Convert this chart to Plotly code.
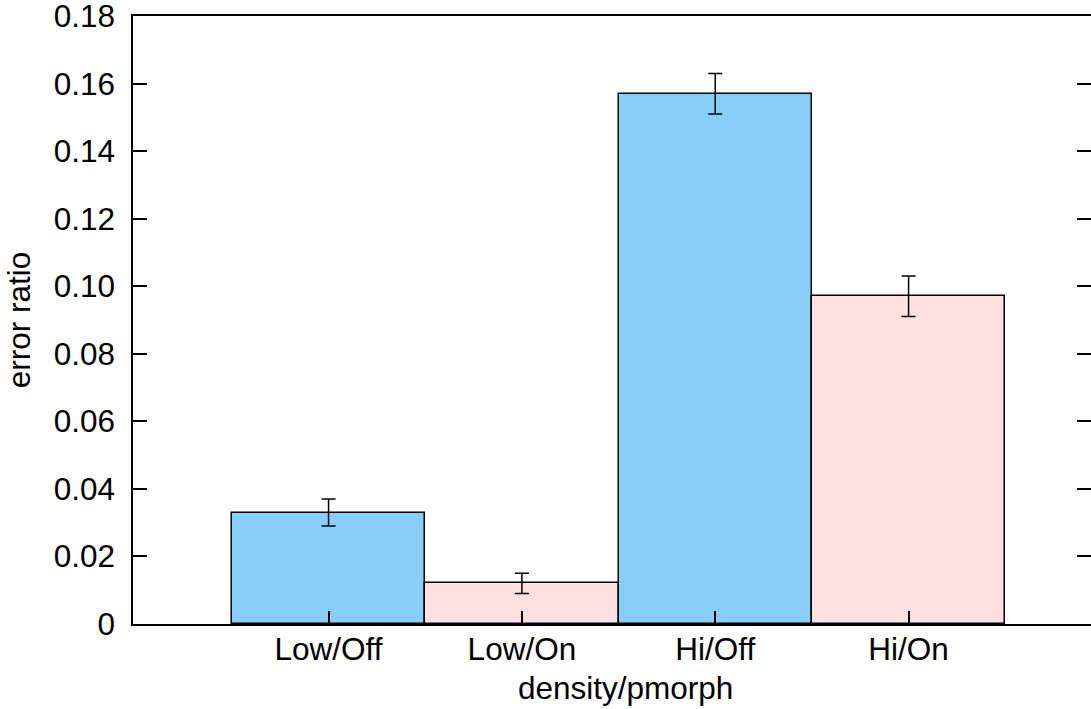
import plotly.graph_objects as go

# Error ratio by density / pmorph setting
categories = ["Low/Off", "Low/On", "Hi/Off", "Hi/On"]
error_ratio = [0.033, 0.012, 0.157, 0.097]
error_spread = [0.004, 0.003, 0.006, 0.006]
bar_colors = ["#87CEFA", "#FFDFE0", "#87CEFA", "#FFDFE0"]
y_tick_values = [0, 0.02, 0.04, 0.06, 0.08, 0.10, 0.12, 0.14, 0.16, 0.18]
y_tick_labels = ["0", "0.02", "0.04", "0.06", "0.08", "0.10", "0.12", "0.14", "0.16", "0.18"]

positions = list(range(len(categories)))
font_family = "Liberation Sans, Arial, Helvetica, sans-serif"
font_size = 31.5

fig = go.Figure()
fig.add_trace(go.Bar(
    x=positions,
    y=error_ratio,
    width=1.0,
    marker=dict(color=bar_colors, line=dict(color="black", width=1.5)),
    error_y=dict(type="data", array=error_spread, visible=True,
                 color="black", thickness=1.5, width=7),
    showlegend=False,
))

fig.update_layout(
    width=1091,
    height=709,
    margin=dict(l=133, r=0, t=16, b=85),
    paper_bgcolor="white",
    plot_bgcolor="white",
    font=dict(family=font_family, size=font_size, color="black"),
    bargap=0,
)

fig.update_xaxes(
    range=[-1.0115, 3.9435],
    tickmode="array",
    tickvals=positions,
    ticktext=categories,
    ticks="inside",
    ticklen=13,
    tickwidth=1.5,
    tickcolor="black",
    showline=True,
    linecolor="black",
    linewidth=1.5,
    mirror=True,
    showgrid=False,
    zeroline=False,
    automargin=False,
    ticklabelstandoff=-4,
    tickfont=dict(size=font_size),
)

fig.update_yaxes(
    range=[0, 0.18],
    tickmode="array",
    tickvals=y_tick_values,
    ticktext=y_tick_labels,
    ticks="inside",
    ticklen=14,
    tickwidth=1.5,
    tickcolor="black",
    showline=True,
    linecolor="black",
    linewidth=1.5,
    mirror="ticks",
    showgrid=False,
    zeroline=False,
    automargin=False,
    ticklabeloverflow="allow",
    ticklabelstandoff=10,
    tickfont=dict(size=font_size),
    title=dict(text="error ratio", font=dict(size=font_size), standoff=14),
)

# x-axis label placed under the tick labels
fig.add_annotation(
    text="density/pmorph",
    xref="paper", yref="paper",
    x=0.5146, y=0,
    xanchor="center", yanchor="middle",
    yshift=-63.5,
    showarrow=False,
    font=dict(size=font_size),
)

fig.write_html("out.html")
